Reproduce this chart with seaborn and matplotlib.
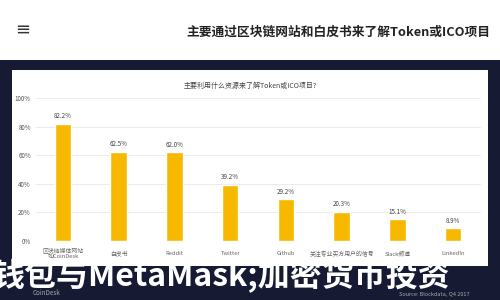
import matplotlib
matplotlib.use("Agg")
import matplotlib.pyplot as plt
import seaborn as sns
import pandas as pd
from matplotlib.patches import Rectangle

categories = ["区块链媒体网站\n如CoinDesk", "白皮书", "Reddit", "Twitter", "Github",
              "关注专业买方用户的信号", "Slack频道", "LinkedIn"]
values = [82.2, 62.5, 62.0, 39.2, 29.2, 20.3, 15.1, 8.9]
value_labels = ["82.2%", "62.5%", "62.0%", "39.2%", "29.2%", "20.3%", "15.1%", "8.9%"]
yticks = [0, 20, 40, 60, 80, 100]
ytick_labels = ["0%", "20%", "40%", "60%", "80%", "100%"]

sns.set_theme(style="white")
plt.rcParams['font.family'] = ['Noto Sans CJK SC', 'DejaVu Sans']

fig = plt.figure(figsize=(5, 3), dpi=100)
fig.patch.set_facecolor("white")

# dark band and inner white panel
fig.add_artist(Rectangle((0, 0), 1, 0.8, transform=fig.transFigure,
                         facecolor="#161a33", edgecolor="none", zorder=0))
fig.add_artist(Rectangle((0.024, 0.113), 0.952, 0.654, transform=fig.transFigure,
                         facecolor="white", edgecolor="none", zorder=0))

# header
fig.text(0.03, 0.9, "≡", fontsize=13, color="#333333", ha="left", va="center",
         family=['DejaVu Sans'])
fig.text(0.98, 0.893, "主要通过区块链网站和白皮书来了解Token或ICO项目", fontsize=9.2,
         color="#222222", ha="right", va="center", fontweight="bold")

ax = fig.add_axes([0.07, 0.197, 0.892, 0.476])
df = pd.DataFrame({"cat": categories, "val": values})
sns.barplot(data=df, x="cat", y="val", color="#f6b900", width=0.3, ax=ax,
            saturation=1, zorder=3)
ax.set_xlim(-0.5, 7.5)
ax.set_ylim(0, 100)
ax.set_yticks(yticks)
ax.set_yticklabels(ytick_labels, fontsize=4.5, color="#555555")
ax.set_xticks(range(len(categories)))
ax.set_xticklabels(categories, fontsize=4.2, color="#666666", linespacing=1.0, va="center")
ax.tick_params(axis="y", length=0, pad=3)
ax.tick_params(axis="x", length=0, pad=9)
ax.set_xlabel("")
ax.set_ylabel("")
ax.yaxis.grid(True, color="#e8e8e8", linewidth=0.6, zorder=0)
ax.set_axisbelow(True)
for s in ax.spines.values():
    s.set_visible(False)
ax.patch.set_alpha(0)

for i, (v, lab) in enumerate(zip(values, value_labels)):
    ax.text(i, v + 2.5, lab, ha="center", va="bottom", fontsize=4.5, color="#444444")

fig.text(0.5, 0.713, "主要利用什么资源来了解Token或ICO项目?", fontsize=5, color="#444444",
         ha="center", va="center")

# footer
fig.text(0.065, 0.022, "CoinDesk", fontsize=4.5, color="#aaaaaa", ha="left", va="center")
fig.text(0.94, 0.02, "Source: Blockdata, Q4 2017", fontsize=4, color="#aaaaaa",
         ha="right", va="center")
fig.text(-0.015, 0.08, "钱包与MetaMask;加密货币投资", fontsize=23, color="white",
         ha="left", va="center", fontweight="bold")

fig.savefig("out.png", dpi=100)
